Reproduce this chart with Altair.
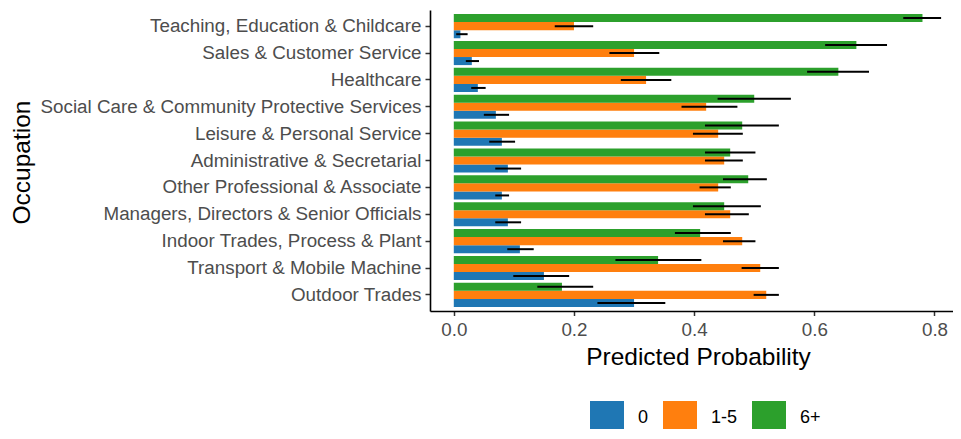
import altair as alt
import pandas as pd

occupations = [
    "Teaching, Education & Childcare",
    "Sales & Customer Service",
    "Healthcare",
    "Social Care & Community Protective Services",
    "Leisure & Personal Service\u00a0",
    "Administrative & Secretarial",
    "Other Professional & Associate",
    "Managers, Directors & Senior Officials",
    "Indoor Trades, Process & Plant",
    "Transport & Mobile Machine\u00a0",
    "Outdoor Trades",
]
groups = ["0", "1-5", "6+"]
colors = ["#1f77b4", "#ff7f0e", "#2ca02c"]

p0 = [0.011, 0.030, 0.040, 0.070, 0.080, 0.090, 0.080, 0.090, 0.110, 0.150, 0.300]
lo0 = [0.004, 0.020, 0.029, 0.050, 0.059, 0.069, 0.069, 0.069, 0.089, 0.099, 0.239]
hi0 = [0.023, 0.042, 0.053, 0.092, 0.102, 0.112, 0.092, 0.112, 0.133, 0.192, 0.352]

p15 = [0.200, 0.300, 0.320, 0.420, 0.440, 0.450, 0.440, 0.460, 0.480, 0.510, 0.520]
lo15 = [0.168, 0.259, 0.278, 0.379, 0.398, 0.418, 0.409, 0.418, 0.448, 0.479, 0.499]
hi15 = [0.232, 0.342, 0.362, 0.472, 0.481, 0.481, 0.461, 0.491, 0.502, 0.541, 0.541]

p6 = [0.780, 0.670, 0.640, 0.500, 0.480, 0.460, 0.490, 0.450, 0.410, 0.340, 0.180]
lo6 = [0.748, 0.618, 0.588, 0.439, 0.418, 0.418, 0.448, 0.398, 0.368, 0.269, 0.139]
hi6 = [0.811, 0.721, 0.691, 0.561, 0.541, 0.502, 0.521, 0.511, 0.461, 0.412, 0.232]

rows = []
for g, ps, los, his in zip(groups, [p0, p15, p6], [lo0, lo15, lo6], [hi0, hi15, hi6]):
    for occ, p, lo, hi in zip(occupations, ps, los, his):
        rows.append({"Occupation": occ, "Group": g, "Prob": p, "Lo": lo, "Hi": hi})
df = pd.DataFrame(rows)

FONT = "Liberation Sans"

y_enc = alt.Y(
    "Occupation:N",
    sort=occupations,
    scale=alt.Scale(paddingInner=0.1, paddingOuter=0.15),
    axis=alt.Axis(
        title="Occupation",
        titleAngle=270,
        titleX=-401,
        titleY=152,
        titleAlign="center",
        titleBaseline="alphabetic",
        labelPadding=4,
        labelLimit=1000,
        tickSize=5,
    ),
)
yoff = alt.YOffset(
    "Group:N",
    sort=["6+", "1-5", "0"],
    scale=alt.Scale(paddingInner=0, paddingOuter=0),
)
x_scale = alt.Scale(domain=[-0.0396, 0.8308], nice=False, zero=False)

bars = alt.Chart(df).mark_bar().encode(
    x=alt.X(
        "Prob:Q",
        scale=x_scale,
        axis=alt.Axis(
            values=[0, 0.2, 0.4, 0.6, 0.8],
            format=".1f",
            title="Predicted Probability",
            titleX=268,
            titleY=53,
            titleAlign="center",
            titleBaseline="alphabetic",
            labelPadding=5,
            tickSize=4.5,
        ),
    ),
    x2=alt.datum(0),
    y=y_enc,
    yOffset=yoff,
    color=alt.Color(
        "Group:N",
        scale=alt.Scale(domain=groups, range=colors),
        title=None,
        legend=alt.Legend(
            orient="none",
            legendX=160,
            legendY=391,
            direction="horizontal",
            symbolType="square",
            symbolSize=1156,
            symbolStrokeWidth=0,
            symbolOpacity=1,
            labelFontSize=18,
            labelFont=FONT,
            labelColor="#000000",
            labelOffset=14,
            columnPadding=14,
            padding=0,
        ),
    ),
)

errs = alt.Chart(df).mark_rule(color="black", strokeWidth=2).encode(
    x=alt.X("Lo:Q", scale=x_scale),
    x2="Hi:Q",
    y=y_enc,
    yOffset=yoff,
)

chart = (
    alt.layer(bars, errs)
    .properties(
        width=523,
        height=301,
        autosize=alt.AutoSizeParams(type="none"),
        padding={"left": 422, "top": 2, "right": 0, "bottom": 118},
        background="white",
    )
    .configure_view(strokeWidth=0)
    .configure_axis(
        grid=False,
        labelFont=FONT,
        labelFontSize=18.8,
        labelColor="#4d4d4d",
        titleFont=FONT,
        titleFontSize=24.5,
        titleFontWeight="normal",
        titleColor="#000000",
        domainColor="#000000",
        domainWidth=1.6,
        tickColor="#333333",
        tickWidth=1.5,
    )
)

chart.save("out.html", embed_options={"renderer": "svg", "actions": False})
